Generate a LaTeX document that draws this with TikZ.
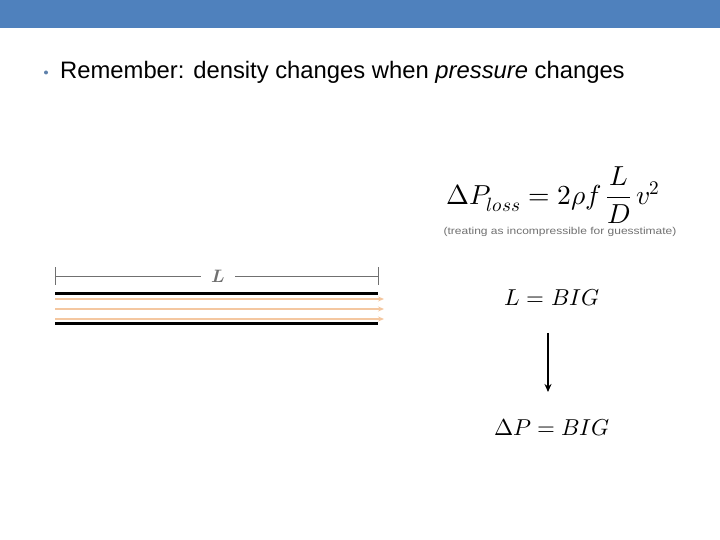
\documentclass[tikz,border=0pt]{standalone}
\usepackage{fontspec}
\setmainfont{Liberation Sans}
\usepackage{unicode-math}
\setmathfont{Latin Modern Math}
\usetikzlibrary{arrows.meta}
\definecolor{bandblue}{HTML}{4F81BD}
\definecolor{flow}{HTML}{F4C7A0}
\definecolor{dimgray}{HTML}{707070}
\tikzset{
  pipewall/.style={line width=3pt},
  flowline/.style={flow, line width=2pt, -{Stealth[length=6pt,width=5pt]}},
  bigeq/.style={font=\fontsize{23}{27}\selectfont}
}
\begin{document}
\begin{tikzpicture}[x=1pt,y=-1pt]
\useasboundingbox (0,0) rectangle (720,540);
\fill [bandblue] (0,0) rectangle (720,28);
\node [anchor=base west, inner sep=0pt, font=\fontsize{23.8}{27}\selectfont] (remember) at (60,79) {Remember: density changes when \textit{pressure} changes};
\fill [bandblue!70!gray] (46,72.5) circle (2pt);
% friction loss
\node [font=\fontsize{27.5}{32}\selectfont] (loss) at (553,195) {$\Delta P_{loss} = 2\rho f\,\dfrac{L}{D}\,v^2$};
\node [dimgray, font=\fontsize{10}{12}\selectfont, xscale=1.2] (note) at (560,232) {(treating as incompressible for guesstimate)};
% pipe of length L
\node [dimgray, inner xsep=10pt, font=\fontsize{18}{20}\selectfont] (len) at (218,276) {$\symbfit{L}$};
\draw [dimgray] (55,267) -- (55,285);
\draw [dimgray] (378,267) -- (378,285);
\draw [dimgray] (55,276) -- (len.west);
\draw [dimgray] (len.east) -- (378,276);
\draw [pipewall] (55,293) -- (378,293);
\draw [pipewall] (55,323) -- (378,323);
\foreach \y in {299,309,319}
  \draw [flowline] (55,\y) -- (384,\y);
% consequence
\node [bigeq] (lbig) at (552,298) {$L = BIG$};
\node [bigeq] (dpbig) at (552,428) {$\Delta P = BIG$};
\draw [line width=2.6pt, -{Stealth[length=8pt,width=7pt]}, shorten <=23pt, shorten >=24pt] (lbig.south -| 548,0) -- (dpbig.north -| 548,0);
\end{tikzpicture}
\end{document}
